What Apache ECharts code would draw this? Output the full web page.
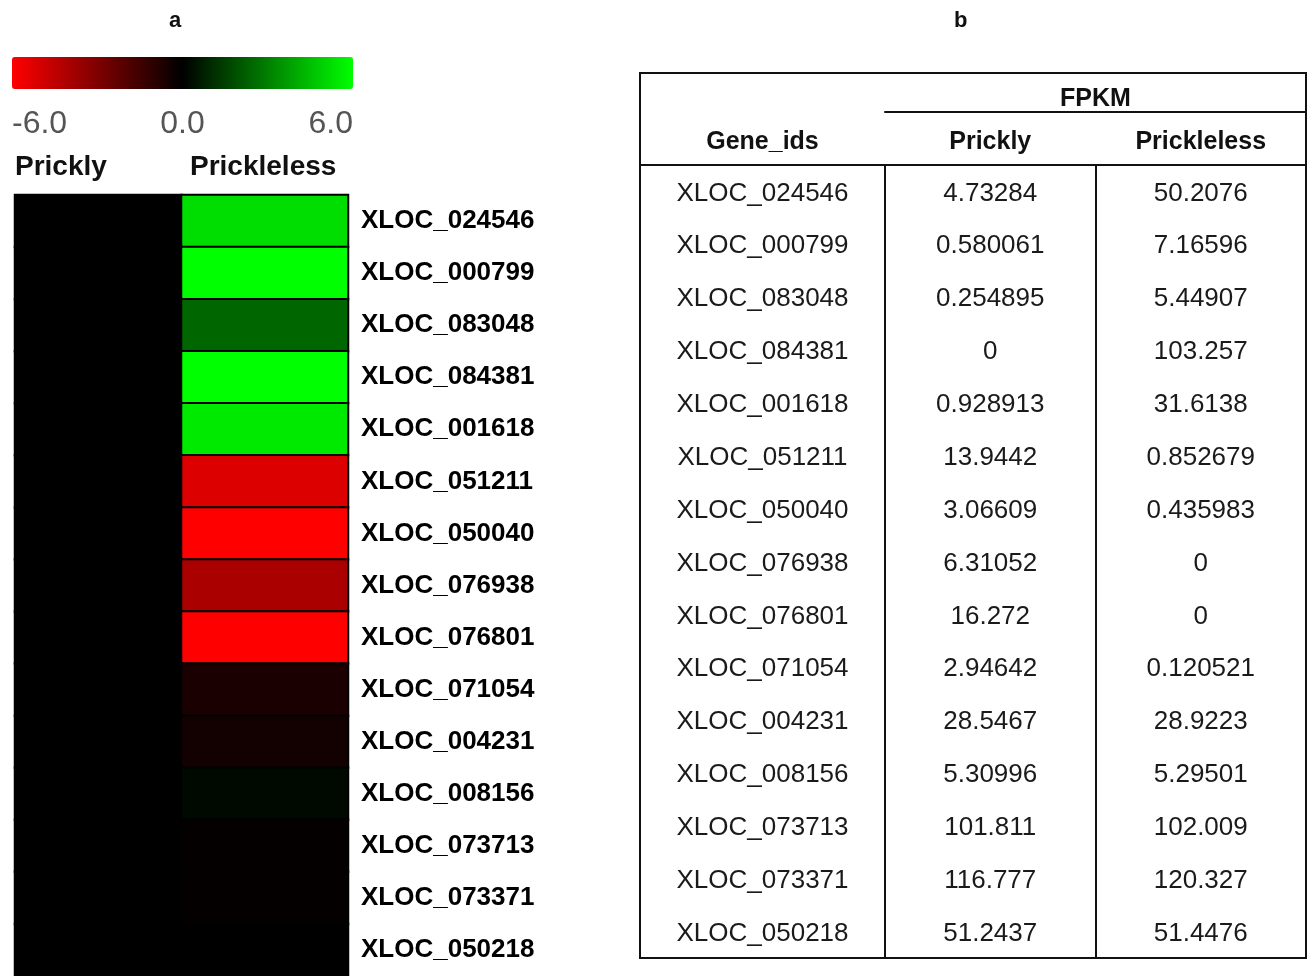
<!DOCTYPE html>
<html><head><meta charset="utf-8">
<script src="https://cdn.jsdelivr.net/npm/echarts@6/dist/echarts.min.js"></script>
<style>html,body{margin:0;padding:0;background:#fff}#c{width:1311px;height:976px}</style>
</head><body><div id="c"></div>
<script>
const genes = ['XLOC_024546','XLOC_000799','XLOC_083048','XLOC_084381','XLOC_001618','XLOC_051211','XLOC_050040','XLOC_076938','XLOC_076801','XLOC_071054','XLOC_004231','XLOC_008156','XLOC_073713','XLOC_073371','XLOC_050218'];
const samples = ['Prickly','Prickleless'];
const pricklyLog = [0,0,0,0,0,0,0,0,0,0,0,0,0,0,0];
const pricklelessLog = [5.2,6,2.4,6,5.5,-5.2,-6,-4,-6,-0.6,-0.45,0.2,-0.1,-0.1,0];
const colorTicks = [-6, 0, 6];
const fpkmPrickly = [4.73284,0.580061,0.254895,0,0.928913,13.9442,3.06609,6.31052,16.272,2.94642,28.5467,5.30996,101.811,116.777,51.2437];
const fpkmPrickleless = [50.2076,7.16596,5.44907,103.257,31.6138,0.852679,0.435983,0,0,0.120521,28.9223,5.29501,102.009,120.327,51.4476];
const idHeader = ['Gene_ids'];
const groupHeader = 'FPKM';
const panelLetters = ['a','b'];

const FONT = "'Liberation Sans', Arial, sans-serif";
const heatData = [];
genes.forEach((g, i) => {
  heatData.push([0, i, pricklyLog[i]]);
  heatData.push([1, i, pricklelessLog[i]]);
});
const idData = genes.map(g => [idHeader[0], g]);
const valData = [];
genes.forEach((g, i) => {
  valData.push([samples[0], g, fpkmPrickly[i]]);
  valData.push([samples[1], g, fpkmPrickleless[i]]);
});

const hidden = {show: false};
const chart = echarts.init(document.getElementById('c'));
chart.setOption({
  animation: false,
  backgroundColor: '#fff',
  title: [
    {text: panelLetters[0], left: 164, top: 5, textStyle: {fontFamily: FONT, fontSize: 22, fontWeight: 'bold', color: '#111'}},
    {text: panelLetters[1], left: 949, top: 5, textStyle: {fontFamily: FONT, fontSize: 22, fontWeight: 'bold', color: '#111'}}
  ],
  visualMap: {
    type: 'continuous', min: colorTicks[0], max: colorTicks[2], orient: 'horizontal',
    left: 12, top: 57, itemWidth: 32, itemHeight: 341, padding: 0,
    calculable: false, seriesIndex: 0, text: null,
    inRange: {color: ['#ff0000', '#000000', '#00ff00']}
  },
  grid: [
    {left: 15, top: 195, width: 333, height: 785},
    {left: 15, top: 140, width: 175, height: 1},
    {left: 12, top: 90, width: 341, height: 1},
    {left: 640, top: 73, width: 666, height: 885, show: true, borderColor: '#111', borderWidth: 2, backgroundColor: 'transparent'},
    {left: 640, top: 165, width: 245, height: 793, show: true, borderColor: '#111', borderWidth: 2, backgroundColor: 'transparent'},
    {left: 885, top: 165, width: 421, height: 793, show: true, borderColor: '#111', borderWidth: 2, backgroundColor: 'transparent'}
  ],
  xAxis: [
    {gridIndex: 0, type: 'category', data: samples, show: false},
    {gridIndex: 1, type: 'category', data: samples, boundaryGap: false,
      axisLine: hidden, axisTick: hidden, splitLine: hidden,
      axisLabel: {interval: 0, showMinLabel: true, showMaxLabel: true, hideOverlap: false,
        align: 'left', margin: 12, fontFamily: FONT, fontSize: 28, fontWeight: 'bold', color: '#111'}},
    {gridIndex: 2, type: 'value', min: colorTicks[0], max: colorTicks[2], interval: 6,
      axisLine: hidden, axisTick: hidden, splitLine: hidden,
      axisLabel: {margin: 17, formatter: v => v.toFixed(1), alignMinLabel: 'left', alignMaxLabel: 'right',
        fontFamily: FONT, fontSize: 32, color: '#555'}},
    {gridIndex: 3, type: 'value', show: false},
    {gridIndex: 4, type: 'category', data: idHeader, position: 'top',
      axisLine: {lineStyle: {color: '#111', width: 2}}, axisTick: hidden, splitLine: hidden,
      axisLabel: {margin: 10, fontFamily: FONT, fontSize: 25, fontWeight: 'bold', color: '#111'}},
    {gridIndex: 5, type: 'category', data: samples, position: 'top',
      axisLine: {lineStyle: {color: '#111', width: 2}}, axisTick: hidden,
      splitLine: {show: true, lineStyle: {color: '#111', width: 2}},
      axisLabel: {margin: 10, fontFamily: FONT, fontSize: 25, fontWeight: 'bold', color: '#111'}},
    {gridIndex: 5, type: 'category', data: samples, position: 'top', offset: 53,
      axisLine: {lineStyle: {color: '#111', width: 2}}, axisTick: hidden, axisLabel: hidden, splitLine: hidden,
      name: groupHeader, nameLocation: 'middle', nameGap: 0,
      nameTextStyle: {fontFamily: FONT, fontSize: 25, fontWeight: 'bold', color: '#111'}}
  ],
  yAxis: [
    {gridIndex: 0, type: 'category', data: genes, inverse: true, position: 'right',
      axisLine: hidden, axisTick: hidden, splitLine: hidden,
      axisLabel: {margin: 13, fontFamily: FONT, fontSize: 26, fontWeight: 'bold', color: '#000'}},
    {gridIndex: 1, type: 'value', show: false},
    {gridIndex: 2, type: 'value', show: false},
    {gridIndex: 3, type: 'value', show: false},
    {gridIndex: 4, type: 'category', data: genes, inverse: true, show: false},
    {gridIndex: 5, type: 'category', data: genes, inverse: true, show: false}
  ],
  series: [
    {type: 'heatmap', xAxisIndex: 0, yAxisIndex: 0, data: heatData,
      itemStyle: {borderColor: '#000', borderWidth: 2}, emphasis: {disabled: true}, silent: true},
    {type: 'scatter', xAxisIndex: 4, yAxisIndex: 4, data: idData, symbolSize: 0, silent: true,
      itemStyle: {opacity: 1},
      label: {show: true, position: 'inside', offset: [0, 2], formatter: p => p.value[1],
        fontFamily: FONT, fontSize: 26, color: '#1a1a1a'}},
    {type: 'scatter', xAxisIndex: 5, yAxisIndex: 5, data: valData, symbolSize: 0, silent: true,
      itemStyle: {opacity: 1},
      label: {show: true, position: 'inside', offset: [0, 2], formatter: p => String(p.value[2]),
        fontFamily: FONT, fontSize: 26, color: '#1a1a1a'}}
  ]
});
</script></body></html>
